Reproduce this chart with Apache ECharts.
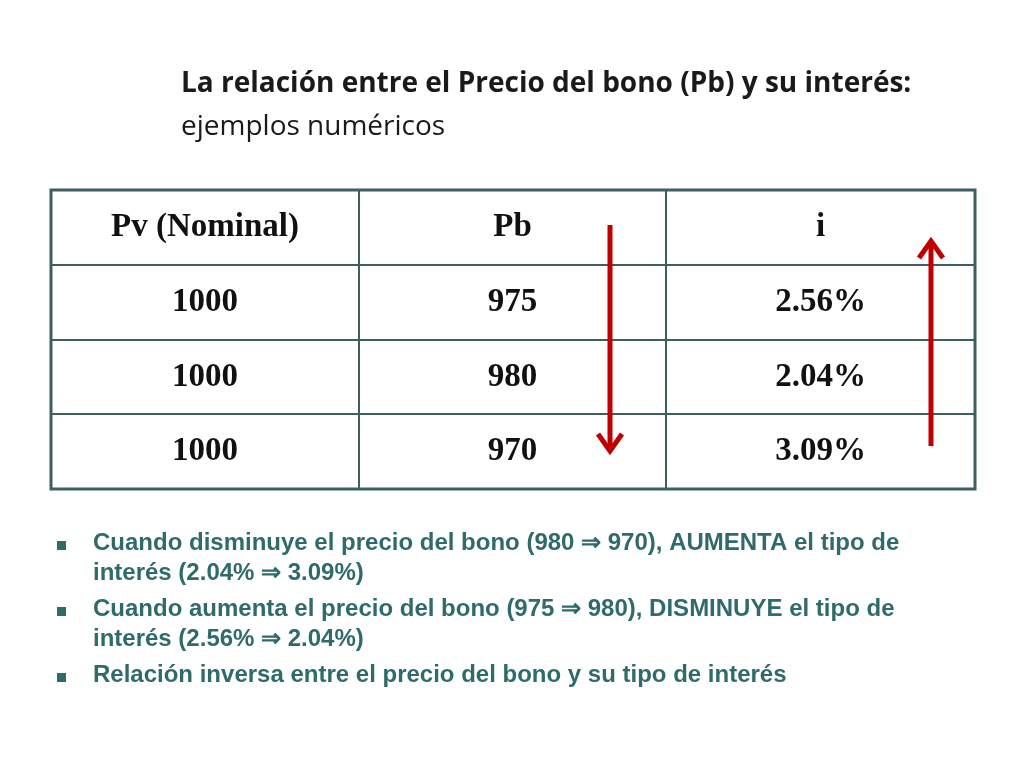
<!DOCTYPE html>
<html><head><meta charset="utf-8">
<script src="https://cdn.jsdelivr.net/npm/echarts@6/dist/echarts.min.js"></script>
<style>html,body{margin:0;background:#fff}#main{width:1024px;height:768px}</style>
</head><body><div id="main"></div>
<script>
// datos de la tabla
var headers = ['Pv (Nominal)', 'Pb', 'i'];
var pvValues = ['1000', '1000', '1000'];
var pbValues = ['975', '980', '970'];
var iValues = ['2.56%', '2.04%', '3.09%'];
var bullets = [
  ['Cuando disminuye el precio del bono (980 \u21D2 970), AUMENTA el tipo de', 'interés (2.04% \u21D2 3.09%)'],
  ['Cuando aumenta el precio del bono (975 \u21D2 980), DISMINUYE el tipo de', 'interés (2.56% \u21D2 2.04%)'],
  ['Relación inversa entre el precio del bono y su tipo de interés']
];

var colX = [51, 359, 666, 975], rowY = [190, 265, 340, 414, 489];
var border = '#3f5e5e', red = '#c00000', teal = '#2f6b6b';
var g = [];

g.push({type:'text', left:181, top:70, style:{text:'La relación entre el Precio del bono (Pb) y su interés:', font:'bold 28px "Open Sans", sans-serif', fill:'#1a1a1a'}});
g.push({type:'text', left:181, top:113, style:{text:'ejemplos numéricos', font:'28px "Open Sans", sans-serif', fill:'#1a1a1a'}});

// lineas de la tabla
for (var r = 1; r < rowY.length - 1; r++)
  g.push({type:'line', shape:{x1:colX[0], y1:rowY[r], x2:colX[3], y2:rowY[r]}, style:{stroke:border, lineWidth:2}});
for (var c = 1; c < colX.length - 1; c++)
  g.push({type:'line', shape:{x1:colX[c], y1:rowY[0], x2:colX[c], y2:rowY[4]}, style:{stroke:border, lineWidth:2}});
g.push({type:'rect', shape:{x:colX[0], y:rowY[0], width:colX[3]-colX[0], height:rowY[4]-rowY[0]}, style:{fill:'none', stroke:border, lineWidth:3}});

var rows = [headers];
for (var k = 0; k < pvValues.length; k++) rows.push([pvValues[k], pbValues[k], iValues[k]]);
rows.forEach(function(row, r){
  row.forEach(function(txt, c){
    g.push({type:'text', x:(colX[c]+colX[c+1])/2, y:(rowY[r]+rowY[r+1])/2,
      style:{text:txt, font:'bold 33px "Liberation Serif", serif', fill:'#111', align:'center', verticalAlign:'middle'}});
  });
});

// flechas
g.push({type:'line', shape:{x1:610, y1:225, x2:610, y2:450}, style:{stroke:red, lineWidth:5}});
g.push({type:'polyline', shape:{points:[[598,434],[610,451],[622,434]]}, style:{stroke:red, lineWidth:5, fill:null}});
g.push({type:'line', shape:{x1:931, y1:446, x2:931, y2:242}, style:{stroke:red, lineWidth:5}});
g.push({type:'polyline', shape:{points:[[919,258],[931,241],[943,258]]}, style:{stroke:red, lineWidth:5, fill:null}});

// viñetas
var by = 545;
bullets.forEach(function(lines){
  g.push({type:'rect', shape:{x:57, y:by-4, width:9, height:9}, style:{fill:teal}});
  lines.forEach(function(t){
    g.push({type:'text', left:93, top:by-14, style:{text:t, font:'bold 24px "Liberation Sans", Arial, sans-serif', fill:teal}});
    by += 30;
  });
  by += 6;
});

var myChart = echarts.init(document.getElementById('main'));
myChart.setOption({graphic:g});
</script></body></html>
